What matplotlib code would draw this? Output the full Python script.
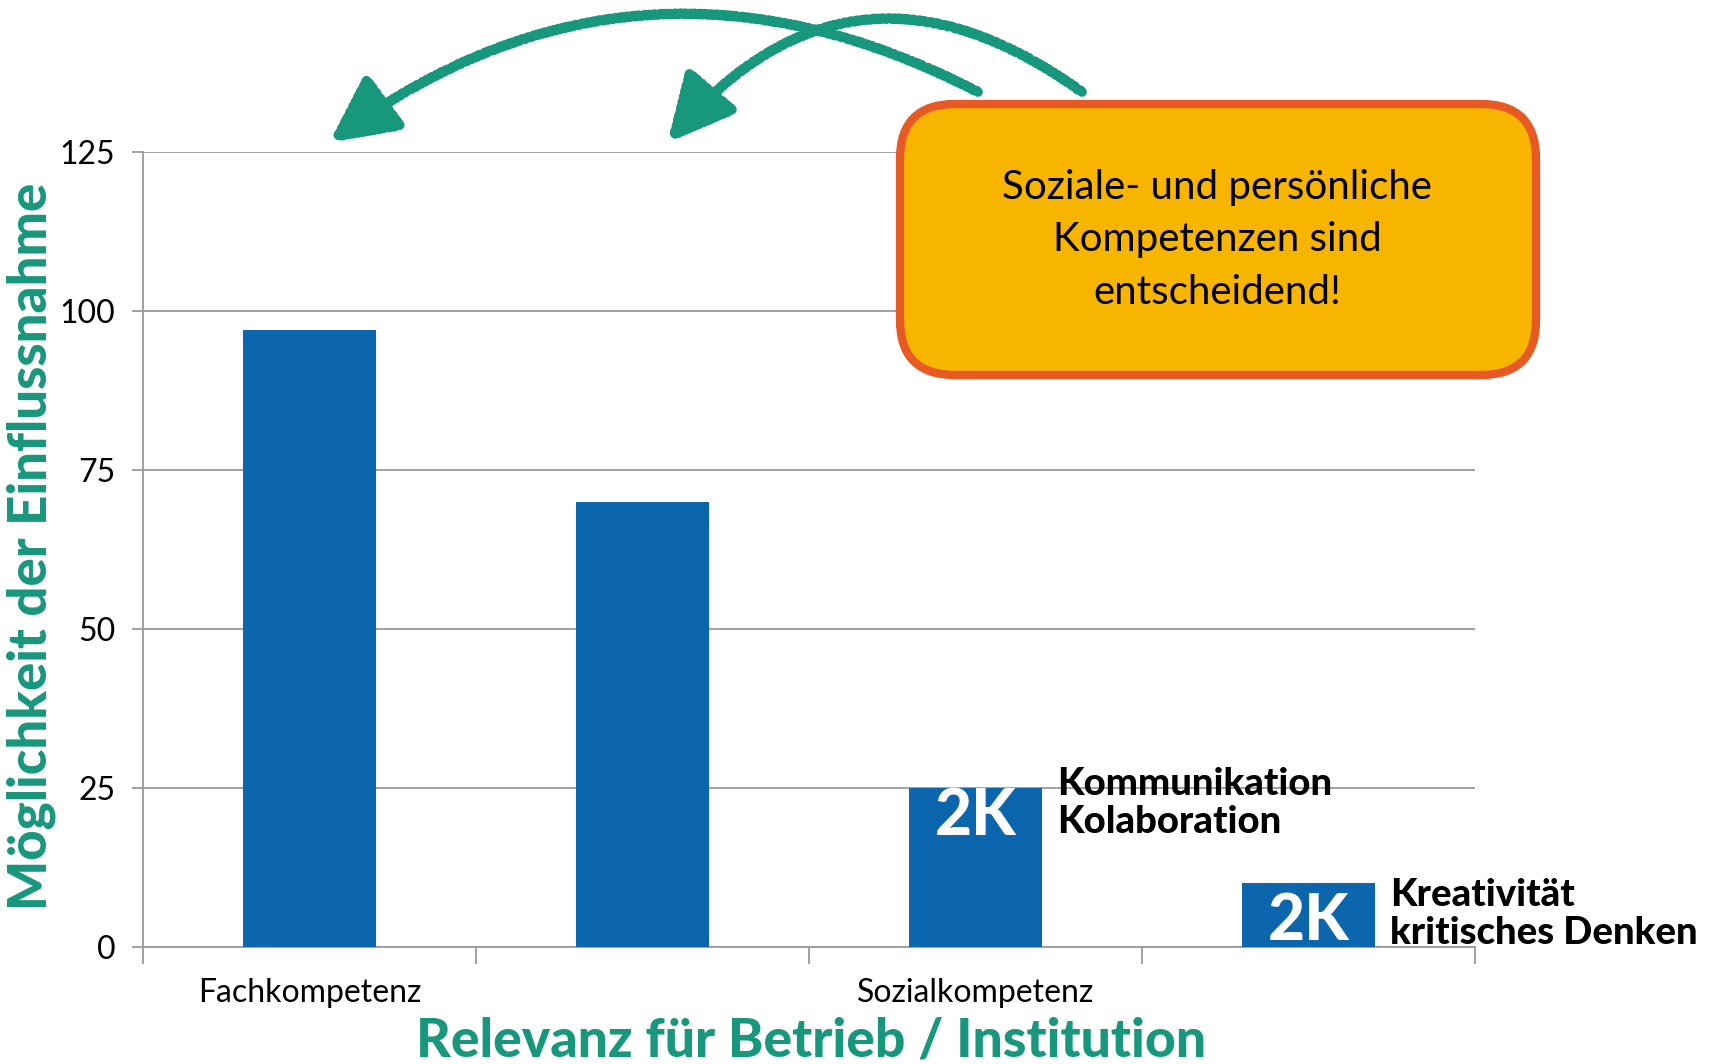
import matplotlib
matplotlib.use('Agg')
import matplotlib.pyplot as plt
from matplotlib.patches import FancyBboxPatch
import numpy as np

# data
categories = ['Fachkompetenz', '', 'Sozialkompetenz', '']
values = [97, 70, 25, 10]
yticks = [0, 25, 50, 75, 100, 125]
bar_tags = ['', '', '2K', '2K']
bar_notes = ['', '', 'Kommunikation\nKolaboration', 'Kreativität\nkritisches Denken']
box_text = 'Soziale- und persönliche\nKompetenzen sind\nentscheidend!'

blue = '#0b66ae'
teal = '#17977c'
grey = '#9a9a9a'
plt.rcParams['font.family'] = ['Lato', 'DejaVu Sans']

fig = plt.figure(figsize=(17.13, 10.64), dpi=100)
ax = fig.add_axes([143/1713, 117/1064, (1475-143)/1713, (947-152)/1064])

x = np.arange(len(values)) + 0.5
ax.bar(x, values, width=0.4, color=blue, zorder=3)

ax.set_xlim(0, 4)
ax.set_ylim(0, 125)
ax.set_yticks(yticks)
ax.set_yticklabels([str(t) for t in yticks], fontsize=23)
ax.yaxis.grid(True, color=grey, lw=1.3, zorder=0)

# boundary ticks (major) and centred labels (minor)
ax.set_xticks(np.arange(len(values) + 1))
ax.set_xticklabels([])
ax.set_xticks(x, minor=True)
ax.set_xticklabels(categories, minor=True, fontsize=23)
ax.tick_params(axis='x', which='major', length=12, color=grey, width=1.3)
ax.tick_params(axis='x', which='minor', length=0, pad=22)
ax.tick_params(axis='y', length=8, color=grey, width=1.3, pad=12)

for s in ['top', 'right']:
    ax.spines[s].set_visible(False)
for s in ['left', 'bottom']:
    ax.spines[s].set_color(grey)
    ax.spines[s].set_linewidth(1.3)

# tags inside bars and notes beside them
tag_dy = [0, 0, -4.5, -6]
note_dy = [0, 0, -2.3, -4.8]
for xi, v, tag, note, tdy, ndy in zip(x, values, bar_tags, bar_notes, tag_dy, note_dy):
    if tag:
        ax.text(xi, v + tdy, tag, color='white', fontsize=46,
                fontweight='black', ha='center', va='center', zorder=4)
    if note:
        ax.text(xi + 0.245, v + ndy, note, fontsize=27.5, fontweight='black',
                ha='left', va='center', linespacing=1.15, clip_on=False, zorder=4)

# axis titles
fig.text(31/1713, 518/1064, 'Möglichkeit der Einflussnahme', rotation=90,
         color=teal, fontsize=38, fontweight='black', ha='center', va='center')
fig.text(811/1713, 23/1064, 'Relevanz für Betrieb / Institution',
         color=teal, fontsize=38.5, fontweight='black', ha='center', va='center')

# callout box
box = FancyBboxPatch((900, 689), 636, 271, boxstyle='round,pad=0,rounding_size=55',
                     transform=None, facecolor='#f8b500', edgecolor='#e85a24',
                     lw=6, zorder=5)
fig.patches.append(box)
fig.text(1217/1713, 1 - 240/1064, box_text, fontsize=29, ha='center',
         va='center', linespacing=1.5, zorder=6)

# hand-drawn style arrows
for start, end, rad in [((978, 972), (330, 922), 0.31), ((1082, 972), (668, 922), 0.46)]:
    ann = ax.annotate('', xy=end, xytext=start, xycoords='figure pixels',
                      textcoords='figure pixels',
                      arrowprops=dict(arrowstyle='-|>,head_length=1.1,head_width=0.55',
                                      mutation_scale=36, color=teal, lw=7,
                                      connectionstyle='arc3,rad=%s' % rad,
                                      shrinkA=0, shrinkB=0),
                      annotation_clip=False)
    ann.arrow_patch.set_sketch_params(0.6, 6, 2)

fig.savefig('out.png', dpi=100)
